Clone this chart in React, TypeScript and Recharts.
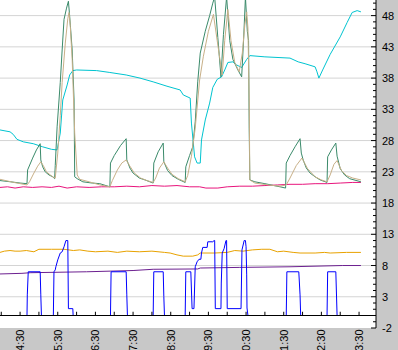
import { LineChart, Line, XAxis, YAxis, CartesianGrid, ReferenceLine } from 'recharts'

// times are minutes since midnight
type Pt = [number, number]

const timeTicks = [240, 270, 300, 330, 360, 390, 420, 450, 480, 510, 540, 570, 600, 630, 660, 690, 720, 750, 780, 810]
const valueTicks = Array.from({ length: 53 }, (_, i) => i - 2)
const gridValues = [3, 8, 13, 18, 23, 28, 33, 38, 43, 48]

const cyan: Pt[] = [
  [238, 29.7], [254, 29.4], [259, 29.0], [265, 28.2], [275, 27.8], [291, 27.5], [306, 27.0], [320, 26.6],
  [329, 26.5], [334, 29.2], [338, 34.5], [345, 36.9], [349, 38.5], [354, 39.2], [360, 39.3], [392, 39.2],
  [413, 38.9], [439, 38.5], [461, 38.0], [482, 37.4], [504, 36.7], [525, 36.1], [530, 35.3], [541, 34.8],
  [543, 30.8], [548, 25.4], [552, 24.4], [557, 24.4], [559, 28.1], [565, 31.3], [572, 34.0], [577, 36.5],
  [584, 37.8], [591, 38.2], [596, 39.3], [601, 40.5], [609, 40.6], [615, 40.1], [623, 39.7], [631, 41.0],
  [636, 41.6], [660, 41.4], [700, 41.2], [713, 40.6], [724, 40.3], [740, 39.8], [743, 39.0], [746, 38.0],
  [752, 39.3], [764, 41.8], [780, 44.6], [791, 46.9], [799, 48.5], [807, 48.8], [813, 48.6],
]

const magenta: Pt[] = [
  [238, 20.5], [250, 20.6], [262, 20.4], [275, 20.6], [290, 20.5], [305, 20.6], [320, 20.5], [332, 20.7],
  [345, 20.4], [360, 20.6], [380, 20.5], [400, 20.6], [420, 20.6], [440, 20.7], [460, 20.6], [480, 20.8],
  [500, 20.7], [520, 20.8], [540, 20.6], [556, 20.6], [566, 20.4], [585, 20.4], [600, 20.6], [620, 20.7],
  [640, 20.7], [660, 20.8], [680, 20.9], [700, 21.0], [720, 21.0], [740, 21.1], [760, 21.1], [780, 21.2],
  [800, 21.3], [813, 21.3],
]

const green: Pt[] = [
  [238, 21.6], [255, 21.4], [270, 21.2], [281, 21.1], [282, 23.3], [290, 25.2], [296, 26.5], [302, 27.5],
  [303, 24.9], [306, 23.8], [310, 23.0], [316, 22.5], [322, 22.2], [325, 21.9], [326, 24.0], [329, 30.2],
  [334, 37.3], [337, 42.5], [340, 47.4], [344, 49.2], [347, 50.3], [349, 47.9], [353, 42.5], [356, 34.5],
  [357, 22.2], [361, 21.9], [370, 21.4], [385, 21.2], [397, 21.1], [413, 20.6], [414, 24.4], [420, 25.6],
  [430, 27.2], [439, 28.3], [440, 24.9], [445, 23.6], [450, 22.8], [460, 22.0], [469, 21.7], [482, 21.2],
  [483, 24.4], [490, 26.2], [498, 27.6], [499, 24.6], [505, 23.2], [512, 22.4], [522, 21.8], [533, 21.3],
  [534, 23.8], [540, 25.6], [545, 27.0], [549, 31.0], [553, 37.4], [557, 42.0], [565, 45.5], [572, 48.0],
  [577, 50.0], [580, 51.0], [585, 44.5], [590, 38.2], [594, 45.0], [599, 51.0], [604, 44.0], [609, 41.0],
  [617, 39.3], [623, 38.2], [626, 44.0], [629, 51.0], [632, 45.5], [634, 44.0], [635, 30.0], [636, 21.7],
  [644, 21.4], [660, 21.1], [684, 20.6], [693, 20.4], [694, 24.4], [700, 25.6], [708, 27.0], [716, 28.3],
  [718, 26.0], [721, 24.9], [726, 23.6], [732, 22.8], [740, 22.2], [748, 21.7], [759, 21.3], [760, 25.4],
  [766, 26.5], [773, 27.6], [775, 25.5], [780, 23.5], [787, 22.5], [795, 21.9], [813, 21.4],
]

const tan: Pt[] = [
  [238, 21.8], [260, 21.3], [281, 20.9], [285, 21.4], [292, 22.8], [298, 23.9], [303, 24.6], [307, 24.0],
  [312, 23.0], [318, 22.5], [322, 22.2], [326, 22.0], [330, 26.0], [334, 32.0], [337, 37.3], [342, 43.6],
  [346, 47.5], [348, 48.5], [350, 46.3], [353, 41.0], [357, 29.2], [361, 22.5], [365, 21.8], [380, 21.4],
  [397, 20.9], [413, 20.6], [417, 21.6], [425, 23.3], [432, 24.4], [439, 24.9], [445, 23.9], [452, 22.8],
  [462, 22.0], [472, 21.6], [482, 21.3], [486, 22.0], [492, 23.6], [499, 24.6], [505, 23.6], [512, 22.6],
  [522, 21.9], [533, 21.4], [537, 22.4], [543, 25.5], [549, 30.0], [556, 37.7], [562, 41.5], [570, 45.5],
  [578, 48.2], [584, 44.0], [592, 38.5], [596, 44.0], [601, 49.0], [606, 44.0], [612, 40.5], [619, 39.0],
  [624, 42.0], [628, 46.5], [631, 48.6], [633, 46.0], [635, 34.5], [636, 21.7], [644, 21.2], [665, 20.9],
  [684, 20.7], [694, 20.9], [700, 22.0], [710, 24.0], [719, 25.2], [728, 23.5], [740, 22.2], [750, 21.7],
  [759, 21.4], [764, 22.5], [770, 24.2], [775, 24.8], [782, 23.2], [790, 22.4], [800, 22.0], [813, 21.7],
]

const orange: Pt[] = [
  [238, 10.1], [245, 10.3], [254, 10.4], [262, 10.3], [270, 10.3], [280, 10.4], [292, 10.2], [300, 10.6],
  [320, 10.6], [340, 10.6], [355, 10.4], [365, 10.5], [378, 10.3], [390, 10.2], [410, 10.3], [425, 10.1],
  [440, 10.3], [460, 10.2], [480, 10.3], [500, 10.1], [509, 10.0], [520, 9.7], [530, 9.5], [545, 9.5],
  [553, 9.7], [557, 10.0], [580, 10.0], [600, 10.1], [612, 10.4], [625, 10.3], [640, 10.5], [655, 10.6],
  [668, 10.6], [680, 10.2], [690, 10.3], [705, 10.1], [716, 10.0], [740, 10.0], [755, 10.1], [764, 10.0],
  [790, 10.1], [813, 10.1],
]

const purple: Pt[] = [
  [238, 6.65], [273, 6.75], [286, 6.85], [376, 7.0], [450, 7.2], [482, 7.4], [553, 7.45], [557, 7.6],
  [620, 7.7], [700, 7.8], [784, 8.0], [813, 8.0],
]

const blue: Pt[] = [
  [238, 0], [281, 0], [281.5, 3.3], [283, 7], [302, 7], [303, 3.3], [304, 0], [323, 0], [324, 7],
  [326, 7.3], [327, 7.8], [330, 8.9], [334, 10.0], [337, 10.2], [340, 11.0], [343, 12], [346, 12],
  [347, 1.1], [354, 1.1], [354.5, 0], [414, 0], [415, 7], [439, 7], [440, 3.3], [441, 0], [482, 0],
  [483, 7], [498, 7], [499, 3], [500, 0], [533, 0], [534, 7], [542, 7], [544, 1.1], [547, 1.1],
  [549, 7.8], [552, 8.6], [555, 9.0], [558, 9.0], [559, 10.0], [561, 10.9], [568, 10.9], [569, 11.8],
  [577, 11.8], [579, 12], [580, 12], [581, 1.1], [590, 1.1], [590.5, 5.2], [592, 10], [595, 10.7],
  [598, 12], [599, 12], [600, 1.1], [622, 1.1], [623.5, 10.5], [627, 12], [629, 12], [630, 11],
  [631, 6.5], [631.5, 1.2], [633, 0], [694, 0], [694.5, 3.3], [695, 7], [714, 7], [716, 3.3], [717, 0],
  [759, 0], [760, 7], [773, 7], [775, 0], [813, 0],
]

const series = [
  { name: 'cyan', pts: cyan, color: '#00c4d0' },
  { name: 'magenta', pts: magenta, color: '#e8147c' },
  { name: 'green', pts: green, color: '#3a8a6a' },
  { name: 'tan', pts: tan, color: '#c8b088' },
  { name: 'orange', pts: orange, color: '#e8a200' },
  { name: 'purple', pts: purple, color: '#6c2090' },
  { name: 'blue', pts: blue, color: '#0000ff' },
]

const toRows = (pts: Pt[]) => pts.map(([t, v]) => ({ t, v }))

const FONT = '"Liberation Sans", Arial, sans-serif'

function TimeTick({ x, y, payload }: any) {
  const m = payload.value as number
  if (m % 60 !== 30) return <g />
  const label = `${Math.floor(m / 60)}:30`
  return (
    <text
      transform={`translate(${x + 4},${y + 1.5}) rotate(-90)`}
      textAnchor="end"
      fontSize={11}
      fontFamily={FONT}
      fill="#000"
    >
      {label}
    </text>
  )
}

function ValueTick({ x, y, payload }: any) {
  const v = payload.value as number
  const major = (v + 2) % 5 === 0
  return (
    <g>
      <line x1={x - (major ? 5 : 3)} x2={x} y1={y} y2={y} stroke="#000" />
      {major && (
        <text x={x + 6} y={y} dy={4} fontSize={11} fontFamily={FONT} fill="#000">
          {v}
        </text>
      )}
    </g>
  )
}

export default function App() {
  return (
    <div style={{ width: 398, height: 350, background: '#c8c8c8' }}>
      <style>{'body{margin:0}'}</style>
      <LineChart width={398} height={350} margin={{ top: 0, right: 0, bottom: 0, left: 0 }}>
        <CartesianGrid horizontal={false} vertical={false} fill="#ffffff" />
        <XAxis
          dataKey="t"
          type="number"
          domain={[238, 837]}
          allowDataOverflow
          ticks={timeTicks}
          interval={0}
          height={22}
          axisLine={false}
          tickLine={false}
          tickSize={0}
          tickMargin={0}
          tick={<TimeTick />}
        />
        <YAxis
          orientation="right"
          type="number"
          domain={[-2, 50.5]}
          allowDataOverflow
          ticks={valueTicks}
          interval={0}
          width={22}
          axisLine={{ stroke: '#000' }}
          tickLine={false}
          tickSize={0}
          tickMargin={0}
          tick={<ValueTick />}
        />
        {gridValues.map(g => (
          <ReferenceLine key={g} y={g} stroke="#d4d4d4" />
        ))}
        {series.map(s => (
          <Line
            key={s.name}
            data={toRows(s.pts)}
            dataKey="v"
            type="linear"
            stroke={s.color}
            strokeWidth={1}
            dot={false}
            activeDot={false}
            isAnimationActive={false}
          />
        ))}
        <ReferenceLine y={0} stroke="#000" />
        {timeTicks.map(t => (
          <ReferenceLine key={`tk${t}`} segment={[{ x: t, y: 0 }, { x: t, y: 0.6 }]} stroke="#000" />
        ))}
      </LineChart>
    </div>
  )
}
